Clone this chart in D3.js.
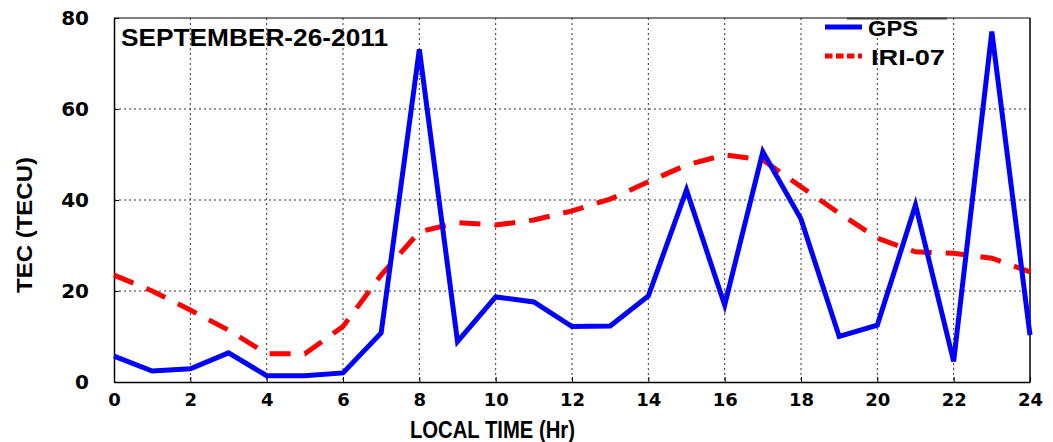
<!DOCTYPE html>
<html>
<head>
<meta charset="utf-8">
<script src="https://cdn.jsdelivr.net/npm/d3@7"></script>
<style>
  html, body { margin: 0; padding: 0; background: #fff; }
  svg { display: block; }
  text { font-family: "Liberation Sans", Arial, sans-serif; font-weight: bold; fill: #000; }
</style>
</head>
<body>
<svg id="chart" width="1053" height="442"></svg>
<script>
const hours = [0,1,2,3,4,5,6,7,8,9,10,11,12,13,14,15,16,17,18,19,20,21,22,23,24];
const gpsTEC = [5.7,2.4,2.9,6.4,1.4,1.4,2.0,10.8,73.1,8.9,18.7,17.6,12.2,12.3,18.9,42.2,16.9,50.6,35.8,10.0,12.5,38.9,4.5,77.0,10.3];
const iriTEC = [23.5,20.0,15.8,11.4,6.2,6.2,12.2,23.5,33.0,35.0,34.5,35.6,37.6,40.2,44.0,47.7,49.9,48.8,42.9,37.1,31.6,28.6,28.3,27.2,24.2];
const xTicks = [0,2,4,6,8,10,12,14,16,18,20,22,24];
const yTicks = [0,20,40,60,80];
const dateLabel = "SEPTEMBER-26-2011";
const xTitle = "LOCAL TIME (Hr)";
const yTitle = "TEC (TECU)";
const seriesNames = ["GPS", "IRI-07"];

const L = 114, R = 1030, T = 18, B = 382;
const svg = d3.select("#chart");
const x = d3.scaleLinear().domain([0, 24]).range([L, R]);
const y = d3.scaleLinear().domain([0, 80]).range([B, T]);

// grid
const grid = svg.append("g");
grid.selectAll("line.vg").data(xTicks.filter(d => d > 0 && d < 24)).join("line")
  .attr("x1", d => x(d)).attr("x2", d => x(d)).attr("y1", T).attr("y2", B)
  .attr("stroke", "#333").attr("stroke-width", 1).attr("stroke-dasharray", "2,3");
grid.selectAll("line.hg").data(yTicks.filter(d => d > 0 && d < 80)).join("line")
  .attr("x1", L).attr("x2", R).attr("y1", d => y(d)).attr("y2", d => y(d))
  .attr("stroke", "#333").attr("stroke-width", 1).attr("stroke-dasharray", "2,3");

// axes
const xAxis = d3.axisBottom(x).tickValues(xTicks).tickSize(-5).tickSizeOuter(0).tickPadding(11);
const yAxis = d3.axisLeft(y).tickValues(yTicks).tickSize(-5).tickSizeOuter(0).tickPadding(25);
const gx = svg.append("g").attr("transform", `translate(0,${B})`).call(xAxis);
const gy = svg.append("g").attr("transform", `translate(${L},0)`).call(yAxis);
[gx, gy].forEach(g => {
  g.select(".domain").attr("stroke", "#000").attr("stroke-width", 1.5);
  g.selectAll(".tick line").attr("stroke", "#000");
  g.selectAll(".tick text").style("font-family", "'DejaVu Sans', sans-serif").style("font-weight", "bold");
});
gx.selectAll(".tick text").style("font-size", "18px").attr("dy", "0.71em");
gy.selectAll(".tick text").style("font-size", "20px");
// top & right frame
svg.append("line").attr("x1", L).attr("x2", R).attr("y1", T).attr("y2", T).attr("stroke", "#000").attr("stroke-width", 1);
svg.append("line").attr("x1", R).attr("x2", R).attr("y1", T).attr("y2", B).attr("stroke", "#000").attr("stroke-width", 1.5);

// lines
const line = d3.line().x((d, i) => x(hours[i])).y(d => y(d));
svg.append("path").datum(iriTEC).attr("d", line)
  .attr("fill", "none").attr("stroke", "#ff0000").attr("stroke-width", 5)
  .attr("stroke-dasharray", "21,14");
svg.append("path").datum(gpsTEC).attr("d", line)
  .attr("fill", "none").attr("stroke", "#0000ff").attr("stroke-width", 5)
  .attr("stroke-linejoin", "miter");

// date label
svg.append("text").attr("x", 121).attr("y", 46).text(dateLabel)
  .style("font-size", "23px").attr("textLength", 267).attr("lengthAdjust", "spacingAndGlyphs");

// legend
svg.append("line").attr("x1", 847).attr("x2", 947).attr("y1", 18.5).attr("y2", 18.5).attr("stroke", "#444").attr("stroke-width", 2);
svg.append("line").attr("x1", 825).attr("x2", 862).attr("y1", 27).attr("y2", 27)
  .attr("stroke", "#0000ff").attr("stroke-width", 5);
svg.append("line").attr("x1", 825).attr("x2", 862).attr("y1", 56).attr("y2", 56)
  .attr("stroke", "#ff0000").attr("stroke-width", 5).attr("stroke-dasharray", "7.5,3.5");
svg.append("text").attr("x", 868).attr("y", 35.5).text(seriesNames[0])
  .style("font-size", "22px").attr("textLength", 50).attr("lengthAdjust", "spacingAndGlyphs");
svg.append("text").attr("x", 871).attr("y", 65).text(seriesNames[1])
  .style("font-size", "22px").attr("textLength", 74).attr("lengthAdjust", "spacingAndGlyphs");

// axis titles
svg.append("text").attr("x", 410).attr("y", 437.5).text(xTitle)
  .style("font-size", "23px").attr("textLength", 165).attr("lengthAdjust", "spacingAndGlyphs");
svg.append("text").attr("transform", "translate(32,293) rotate(-90)").text(yTitle)
  .style("font-size", "22px").attr("textLength", 136).attr("lengthAdjust", "spacingAndGlyphs");
</script>
</body>
</html>
